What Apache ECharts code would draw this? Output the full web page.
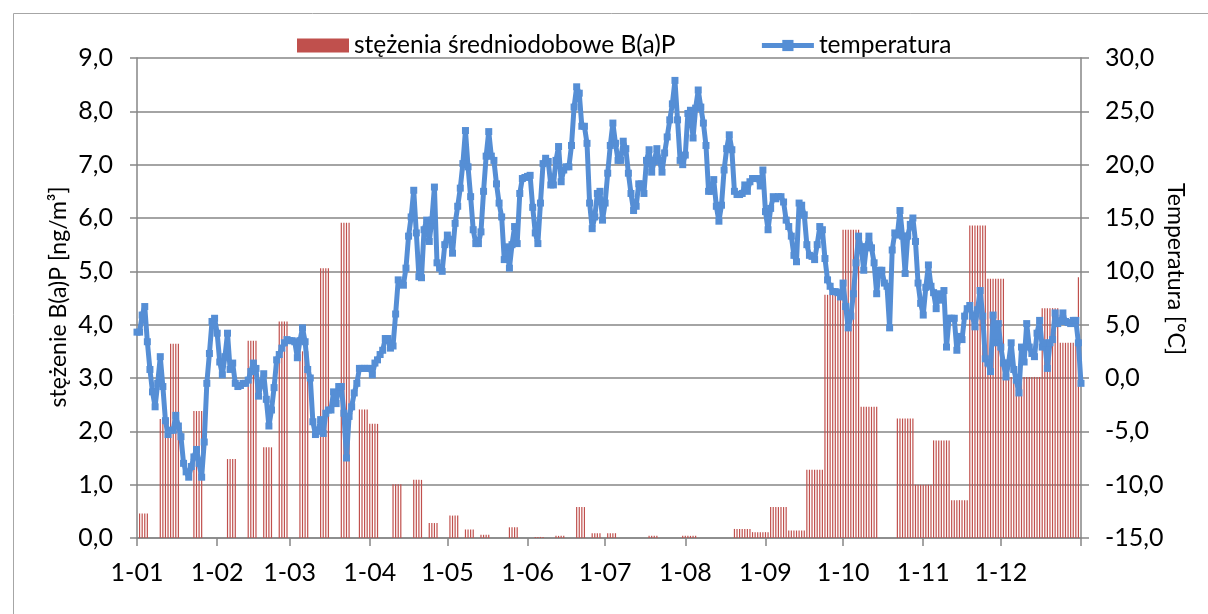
<!DOCTYPE html>
<html>
<head>
<meta charset="utf-8">
<title>B(a)P i temperatura</title>
<script src="https://cdn.jsdelivr.net/npm/echarts@6/dist/echarts.min.js"></script>
<style>
    html, body { margin: 0; padding: 0; background: #fff; }
    #chart { width: 1208px; height: 614px; }
</style>
</head>
<body>
<div id="chart"></div>
<script>
// Stężenia B(a)P i temperatura - wykres dobowy za rok

// Day labels "d-mm", one per day, plus the first day of the next year closing the axis
const monthDays = [31, 28, 31, 30, 31, 30, 31, 31, 30, 31, 30, 31];
const categories = [];
monthDays.forEach(function (n, m) {
    for (let d = 1; d <= n; d++) {
        categories.push(d + '-' + String(m + 1).padStart(2, '0'));
    }
});
categories.push('1-01');

// Samples of B(a)P: first day index, number of days, concentration [ng/m3]
const sampleStart = [1, 9, 13, 22, 35, 43, 49, 55, 63, 71, 79, 86, 90, 99, 107, 113, 121, 127, 133, 144,
    154, 162, 170, 176, 182, 198, 211, 231, 238, 245, 252, 259, 266, 273, 280, 294, 301, 308, 315, 322,
    329, 336, 350, 357, 364];
const sampleDays = [4, 4, 4, 4, 4, 4, 4, 4, 4, 4, 4, 4, 4, 4, 4, 4, 4, 4, 4, 4,
    4, 4, 4, 4, 4, 4, 6, 7, 7, 7, 7, 7, 7, 7, 7, 7, 7, 7, 7, 7,
    7, 14, 7, 7, 1];
const sampleValue = [0.46, 2.23, 3.64, 2.38, 1.48, 3.70, 1.70, 4.06, 3.50, 5.06, 5.91, 2.41, 2.14, 1.01, 1.09, 0.28, 0.42, 0.16, 0.06, 0.20,
    0.02, 0.04, 0.58, 0.09, 0.09, 0.04, 0.04, 0.17, 0.11, 0.58, 0.14, 1.28, 4.56, 5.78, 2.46, 2.24, 1.00, 1.83, 0.71, 5.86,
    4.86, 3.02, 4.31, 3.66, 4.89];

// Daily mean temperature [°C]
const temperature = [
    // styczeń
    4.3, 4.3, 5.9, 6.7, 3.4, 0.8, -1.3, -2.7, -0.5, 2.0, -0.8, -4.0, -5.3, -4.9, -4.9, -3.5,
    -4.5, -5.5, -8.0, -8.8, -9.3, -8.3, -7.4, -6.7, -8.0, -9.3, -6.0, -0.5, 2.3, 5.3, 5.6,
    // luty
    4.2, 1.5, 0.3, 2.0, 4.2, 0.8, 1.4, -0.5, -0.8, -0.7, -0.5, -0.5, -0.2, 0.6, 1.4, 0.9,
    -1.7, -0.5, 0.4, -2.0, -4.5, -3.0, -0.9, 1.7, 2.2, 2.8, 3.3, 3.6,
    // marzec
    3.5, 3.5, 3.4, 1.9, 3.5, 4.7, 3.4, 0.8, 0.0, -4.1, -5.3, -5.0, -3.9, -5.2, -3.3, -3.0,
    -3.0, -1.3, -2.4, -0.8, -0.8, -3.3, -7.5, -3.6, -2.7, -1.4, -0.5, 0.9, 0.9, 0.9, 0.9,
    // kwiecień
    0.9, 0.3, 1.4, 1.7, 2.2, 2.6, 3.7, 3.7, 2.8, 3.0, 6.0, 9.2, 8.9, 8.7, 10.3, 13.3,
    15.1, 17.6, 13.6, 9.5, 9.4, 13.9, 14.8, 12.8, 14.8, 17.9, 10.8, 10.3, 10.0, 12.5,
    // maj
    13.4, 13.0, 11.7, 14.5, 16.1, 17.8, 20.1, 23.2, 19.8, 17.0, 13.9, 12.6, 12.6, 13.7, 17.5, 20.8,
    23.1, 20.8, 20.4, 18.2, 16.4, 15.1, 11.1, 12.3, 10.3, 12.5, 14.2, 12.6, 17.3, 18.7, 18.8,
    // czerwiec
    18.9, 19.0, 16.0, 13.6, 12.6, 16.4, 20.1, 20.6, 20.3, 18.1, 18.1, 20.4, 21.7, 18.4, 19.5,
    19.8, 19.8, 21.8, 25.4, 27.3, 26.7, 23.6, 23.6, 22.0, 16.4, 14.0, 15.1, 17.3, 17.5, 14.8,
    // lipiec
    16.4, 19.2, 21.8, 23.9, 22.0, 20.4, 20.4, 22.2, 21.5, 19.2, 17.3, 15.7, 16.1, 18.2, 18.2, 17.3,
    20.4, 21.4, 19.3, 20.3, 21.5, 20.4, 19.3, 21.1, 22.6, 24.2, 25.7, 27.9, 24.2, 20.4, 20.0,
    // sierpień
    20.9, 24.8, 25.1, 22.5, 25.3, 27.0, 25.4, 23.9, 21.8, 17.5, 17.5, 18.6, 16.1, 14.7, 16.2, 19.5,
    21.5, 22.8, 21.4, 17.5, 17.2, 17.2, 17.3, 18.1, 17.5, 18.4, 18.7, 18.7, 18.7, 18.0, 19.5,
    // wrzesień
    15.6, 13.9, 15.9, 17.0, 16.8, 17.0, 17.0, 16.5, 14.8, 14.2, 13.3, 11.5, 10.9, 16.4, 16.2,
    15.3, 12.5, 11.5, 11.4, 11.1, 12.5, 14.2, 13.9, 11.2, 9.2, 8.6, 8.1, 8.1, 8.0, 7.6,
    // październik
    8.9, 6.7, 4.7, 5.8, 7.9, 10.8, 13.3, 12.3, 10.1, 12.3, 13.3, 12.2, 10.8, 7.9, 10.1, 10.1,
    8.9, 8.6, 4.7, 12.0, 13.6, 13.4, 15.7, 13.3, 9.8, 13.3, 14.4, 15.0, 12.8, 8.9, 7.0,
    // listopad
    5.9, 8.5, 10.6, 8.6, 8.0, 6.5, 7.9, 7.3, 8.2, 2.9, 5.6, 5.6, 5.6, 2.6, 3.9,
    3.6, 5.8, 6.5, 6.8, 5.8, 4.8, 6.4, 8.2, 5.8, 1.8, 1.4, 0.6, 5.9, 3.3, 5.1,
    // grudzień
    2.9, 1.4, 0.1, 1.4, 3.3, 0.8, -0.2, -1.4, 2.9, 1.5, 5.1, 2.9, 2.3, 2.0, 4.2, 5.4,
    2.9, 3.3, 0.9, 3.3, 3.6, 6.1, 5.1, 5.3, 6.1, 5.3, 5.2, 5.1, 5.4, 5.4, 3.3,
    // 1 stycznia następnego roku
    -0.5
];

// Left axis ticks (ng/m3) and right axis ticks (°C): min, max, step
const bapTicks = [0, 9, 1];
const tempTicks = [-15, 30, 5];

document.addEventListener('DOMContentLoaded', function () {
    initializeChart();
});

function commaLabel(v) {
    return v.toFixed(1).replace('.', ',');
}

function initializeChart() {
    const chart = echarts.init(document.getElementById('chart'), null, { renderer: 'canvas' });

    // spread every sample over the days it covers
    const bapDaily = categories.map(function () { return null; });
    sampleStart.forEach(function (start, i) {
        for (let k = 0; k < sampleDays[i]; k++) {
            bapDaily[start + k] = sampleValue[i];
        }
    });

    const isFirstOfMonth = function (index, value) {
        return value.indexOf('1-') === 0;
    };
    const font = 'Lato';
    const gray = '#868686';
    const blue = '#558ED5';
    const labelSize = 25;

    const option = {
        animation: false,
        backgroundColor: '#fff',
        textStyle: { fontFamily: font, color: '#000' },
        legend: {
            left: 292,
            top: 28,
            itemWidth: 52,
            itemHeight: 14,
            itemGap: 84,
            textStyle: { fontFamily: font, fontSize: 24.5, color: '#000' },
            data: [
                { name: 'stężenia średniodobowe B(a)P', icon: 'rect' },
                {
                    name: 'temperatura',
                    lineStyle: { width: 5, color: blue },
                    itemStyle: { color: blue }
                }
            ]
        },
        grid: {
            left: 137,
            right: 127,
            top: 58,
            bottom: 76
        },
        xAxis: {
            type: 'category',
            data: categories,
            boundaryGap: false,
            axisLine: { lineStyle: { color: gray, width: 1.5 } },
            axisTick: {
                interval: isFirstOfMonth,
                length: 8,
                lineStyle: { color: gray, width: 1.5 }
            },
            axisLabel: {
                interval: function (index, value) {
                    return index < categories.length - 1 && isFirstOfMonth(index, value);
                },
                margin: 22,
                fontFamily: font,
                fontSize: labelSize,
                color: '#000'
            },
            splitLine: { show: false }
        },
        yAxis: [
            {
                type: 'value',
                min: bapTicks[0],
                max: bapTicks[1],
                interval: bapTicks[2],
                axisLine: { show: true, lineStyle: { color: gray, width: 1.5 } },
                axisTick: { show: true, length: 7, lineStyle: { color: gray, width: 1.5 } },
                axisLabel: {
                    formatter: commaLabel,
                    margin: 24,
                    fontFamily: font,
                    fontSize: labelSize,
                    color: '#000'
                },
                splitLine: { lineStyle: { color: gray, width: 1.5 } }
            },
            {
                type: 'value',
                min: tempTicks[0],
                max: tempTicks[1],
                interval: tempTicks[2],
                axisLine: { show: true, lineStyle: { color: gray, width: 1.5 } },
                axisTick: { show: true, length: 8, lineStyle: { color: gray, width: 1.5 } },
                axisLabel: {
                    formatter: commaLabel,
                    margin: 24,
                    fontFamily: font,
                    fontSize: labelSize,
                    color: '#000'
                },
                splitLine: { show: false }
            }
        ],
        series: [
            {
                name: 'stężenia średniodobowe B(a)P',
                type: 'bar',
                yAxisIndex: 0,
                data: bapDaily,
                barWidth: 1.2,
                itemStyle: { color: '#C0504D' }
            },
            {
                name: 'temperatura',
                type: 'line',
                yAxisIndex: 1,
                data: temperature,
                symbol: 'rect',
                symbolSize: 7,
                showAllSymbol: true,
                lineStyle: { color: blue, width: 5 },
                itemStyle: { color: blue }
            }
        ],
        graphic: [
            {
                type: 'rect',
                left: 11,
                top: 11,
                shape: { width: 1220, height: 640 },
                style: { fill: null, stroke: '#a6a6a6', lineWidth: 1 },
                silent: true
            },
            {
                type: 'text',
                x: 59,
                y: 297,
                rotation: Math.PI / 2,
                style: {
                    text: 'stężenie B(a)P [ng/m³]',
                    fontFamily: font,
                    fontSize: 23,
                    fill: '#000',
                    align: 'center',
                    verticalAlign: 'middle'
                }
            },
            {
                type: 'text',
                x: 1175,
                y: 269,
                rotation: -Math.PI / 2,
                style: {
                    text: 'Temperatura [°C]',
                    fontFamily: font,
                    fontSize: 23,
                    fill: '#000',
                    align: 'center',
                    verticalAlign: 'middle'
                }
            }
        ]
    };

    chart.setOption(option);
}
</script>
</body>
</html>
